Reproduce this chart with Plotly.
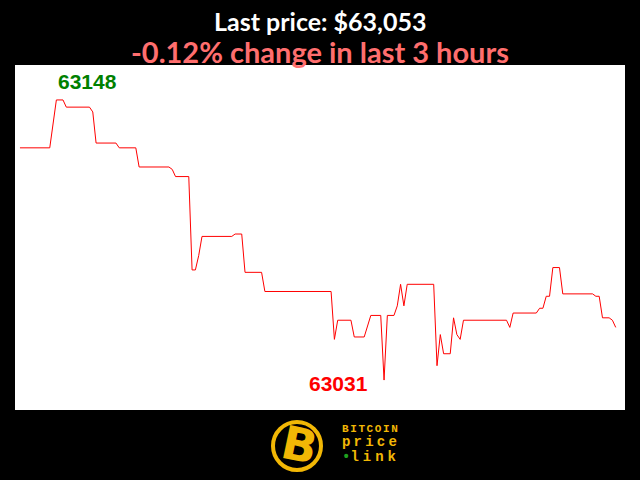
import plotly.graph_objects as go

# minutes since start of the 3-hour window
minutes = [0, 9, 11, 13, 14, 21, 22, 23, 29, 30, 35, 36, 45, 46, 47, 51, 52, 53, 54, 55,
           64, 65, 67, 68, 73, 74, 94, 95, 96, 100, 101, 104, 106, 109, 110, 111, 113, 114,
           115, 116, 117, 125, 126, 127, 128, 130, 131, 132, 133, 134, 147, 148, 149, 156,
           157, 158, 159, 160, 161, 163, 164, 173, 174, 175, 176, 178, 179, 180]
prices = [63128, 63128, 63148, 63148, 63145, 63145, 63143, 63130, 63130, 63128, 63128, 63120,
          63120, 63119, 63116, 63116, 63077, 63077, 63083, 63091, 63091, 63092, 63092, 63076,
          63076, 63068, 63068, 63048, 63056, 63056, 63049, 63049, 63058, 63058, 63031, 63058,
          63058, 63062, 63071, 63062, 63071, 63071, 63037, 63050, 63042, 63042, 63057, 63050,
          63048, 63056, 63056, 63053, 63059, 63059, 63061, 63061, 63066, 63066, 63078, 63078,
          63067, 63067, 63066, 63066, 63057, 63057, 63056, 63053]

title_line1 = "Last price: $63,053"
title_line2 = "-0.12% change in last 3 hours"

hi = max(prices)
lo = min(prices)
i_hi = prices.index(hi)
i_lo = prices.index(lo)

W, H = 640, 480
ML, MR, MT, MB = 15, 15, 65, 70


def px(x):
    return (x - ML) / (W - ML - MR)


def py(y):
    return (H - MB - y) / (H - MT - MB)


fig = go.Figure()
fig.add_trace(go.Scatter(x=minutes, y=prices, mode="lines",
                         line=dict(color="#ff0000", width=1), hoverinfo="skip"))

fig.add_annotation(x=minutes[i_hi], y=hi, text=f"<b>{hi}</b>", showarrow=False,
                   xanchor="left", yanchor="bottom", yshift=5, xshift=0,
                   font=dict(family="Liberation Sans", size=21, color="#008000"))
fig.add_annotation(x=minutes[i_lo], y=lo, text=f"<b>{lo}</b>", showarrow=False,
                   xanchor="right", yanchor="middle", xshift=-14, yshift=-3,
                   font=dict(family="Liberation Sans", size=21, color="#ff0000"))

fig.add_annotation(xref="paper", yref="paper", x=px(320), y=py(21), text=f"<b>{title_line1}</b>",
                   showarrow=False, xanchor="center", yanchor="middle",
                   font=dict(family="Lato", size=25, color="#ffffff"))
fig.add_annotation(xref="paper", yref="paper", x=px(320), y=py(52), text=f"<b>{title_line2}</b>",
                   showarrow=False, xanchor="center", yanchor="middle",
                   font=dict(family="Lato", size=29, color="#ff6e6e"))

# logo
gold = "#f2b705"
fig.add_shape(type="circle", xref="paper", yref="paper",
              x0=px(273), x1=px(321), y0=py(470), y1=py(422),
              line=dict(color=gold, width=4), fillcolor="black")
fig.add_annotation(xref="paper", yref="paper", x=px(299), y=py(445), text="<b>B</b>",
                   showarrow=False, textangle=12, xanchor="center", yanchor="middle",
                   font=dict(family="DejaVu Sans", size=46, color=gold))
fig.add_annotation(
    xref="paper", yref="paper", x=px(340), y=py(444),
    text=("<b><span style='font-size:11px;letter-spacing:1.6px'>BITCOIN</span><br>"
          "<span style='font-size:14px;letter-spacing:3.2px'>price</span><br>"
          "<span style='font-size:14px;color:#1fa01f'>•</span>"
          "<span style='font-size:14px;letter-spacing:4px'>link</span></b>"),
    showarrow=False, xanchor="left", yanchor="middle", align="left",
    font=dict(family="Liberation Mono", size=11, color=gold))

fig.update_layout(
    width=W, height=H,
    margin=dict(l=ML, r=MR, t=MT, b=MB, pad=0),
    paper_bgcolor="black", plot_bgcolor="white",
    showlegend=False,
    xaxis=dict(range=[-1.5, 182.8], visible=False, fixedrange=True),
    yaxis=dict(range=[63018.5, 63162.6], visible=False, fixedrange=True),
)

fig.write_html("out.html", config={"displayModeBar": False},
               post_script="document.body.style.margin='0';document.body.style.background='black';")
